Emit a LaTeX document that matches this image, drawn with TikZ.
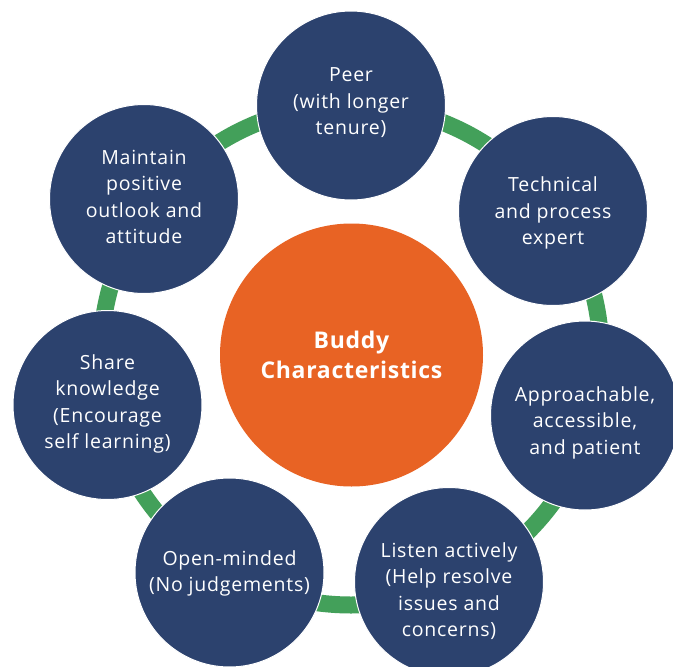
\documentclass[tikz,border=0pt]{standalone}
\usepackage{fontspec}
\setmainfont{Open Sans}
\definecolor{navy}{HTML}{2C426E}
\definecolor{buddyorange}{HTML}{E86324}
\definecolor{ringgreen}{HTML}{43A05A}
\begin{document}
\begin{tikzpicture}[x=1pt,y=-1pt,
  trait/.style={circle,fill=navy,draw=white,line width=1pt,minimum size=189pt,inner sep=0pt},
  traittext/.style={text=white,align=center,inner sep=0pt,
    font=\fontsize{19.5}{26.5}\selectfont\addfontfeatures{LetterSpace=4}},
  hub/.style={circle,fill=buddyorange,minimum size=263pt,inner sep=0pt,
    text=white,align=center,font=\fontsize{23}{30}\selectfont\bfseries\addfontfeatures{LetterSpace=3}}]
\useasboundingbox (0,0) rectangle (673,667);
\clip (0,0) rectangle (673,667);
\fill[white] (0,0) rectangle (673,667);
% ring linking the traits
\draw[ringgreen,line width=17pt] (351,355) circle[radius=250];
% central hub
\node[hub] (hub) at (351.5,355) {Buddy\\Characteristics};
% traits round the ring, each with its text nudged within its circle
\node[trait,label={[traittext,yshift=2.5pt]center:{Peer\\(with longer\\tenure)}}] (peer) at (351,105.5) {};
\node[trait,label={[traittext,yshift=-2pt]center:{Technical\\and process\\expert}}] (tech) at (553,211) {};
\node[trait,label={[traittext,yshift=-7pt]center:{Approachable,\\accessible,\\and patient}}] (appr) at (585,415.5) {};
\node[trait,label={[traittext,yshift=-9pt]center:{Listen actively\\(Help resolve\\issues and\\concerns)}}] (listen) at (449,582) {};
\node[trait,label={[traittext,yshift=-1pt]center:{Open-minded\\(No judgements)}}] (open) at (229.5,572.5) {};
\node[trait,label={[traittext,yshift=1pt]center:{Share\\knowledge\\(Encourage\\self learning)}}] (share) at (107.5,405) {};
\node[trait,label={[traittext,yshift=2pt]center:{Maintain\\positive\\outlook and\\attitude}}] (maint) at (144,199) {};
\end{tikzpicture}
\end{document}
